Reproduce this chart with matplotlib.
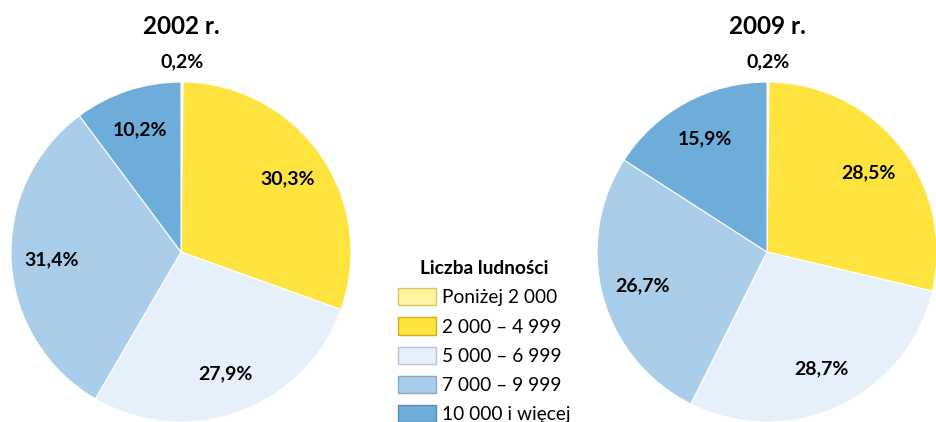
import numpy as np
import matplotlib.pyplot as plt
from matplotlib.patches import Patch

plt.rcParams['font.family'] = ['Lato', 'DejaVu Sans']

categories = ["Poniżej 2 000", "2 000 – 4 999", "5 000 – 6 999",
              "7 000 – 9 999", "10 000 i więcej"]
years = ["2002 r.", "2009 r."]
values_2002 = [0.2, 30.3, 27.9, 31.4, 10.2]
values_2009 = [0.2, 28.5, 28.7, 26.7, 15.9]

colors = ["#FFF3A0", "#FFE440", "#E5F0FA", "#AACEEA", "#6EADDA"]
edge_colors = ["#D8C860", "#C8B020", "#B8C4D0", "#8AA8C0", "#5A8CB0"]

W, H = 936, 422
fig = plt.figure(figsize=(W / 100, H / 100), dpi=100)

R = 170
centers = [(181, 252), (767, 252)]

for (cx, cy), year, vals in zip(centers, years, [values_2002, values_2009]):
    ax = fig.add_axes([(cx - R) / W, (H - cy - R) / H, 2 * R / W, 2 * R / H])
    wedges, _ = ax.pie(vals, colors=colors, startangle=90, counterclock=False,
                       wedgeprops=dict(edgecolor="white", linewidth=0.8))
    ax.set_xlim(-1, 1)
    ax.set_ylim(-1, 1)
    ax.axis("off")
    for w, v in zip(wedges, vals):
        ang = np.deg2rad((w.theta1 + w.theta2) / 2)
        r = 1.12 if v < 1 else 0.76
        ax.text(r * np.cos(ang), r * np.sin(ang), f"{v:.1f}%".replace(".", ","),
                ha="center", va="center", fontsize=14, fontweight="bold")
    fig.text(cx / W, 1 - 27 / H, year, ha="center", va="center",
             fontsize=17.5, fontweight="bold")

handles = [Patch(facecolor=c, edgecolor=e, linewidth=1) for c, e in zip(colors, edge_colors)]
leg = fig.legend(handles, categories, loc="upper left",
                 bbox_to_anchor=(398 / W, 1 - 260 / H), frameon=False,
                 fontsize=13.8, title="Liczba ludności",
                 title_fontproperties=dict(weight="bold", size=13.8),
                 handlelength=2.0, handleheight=1.0, handletextpad=0.3,
                 labelspacing=0.58, borderpad=0, borderaxespad=0)

fig.savefig("out.png", dpi=100)
